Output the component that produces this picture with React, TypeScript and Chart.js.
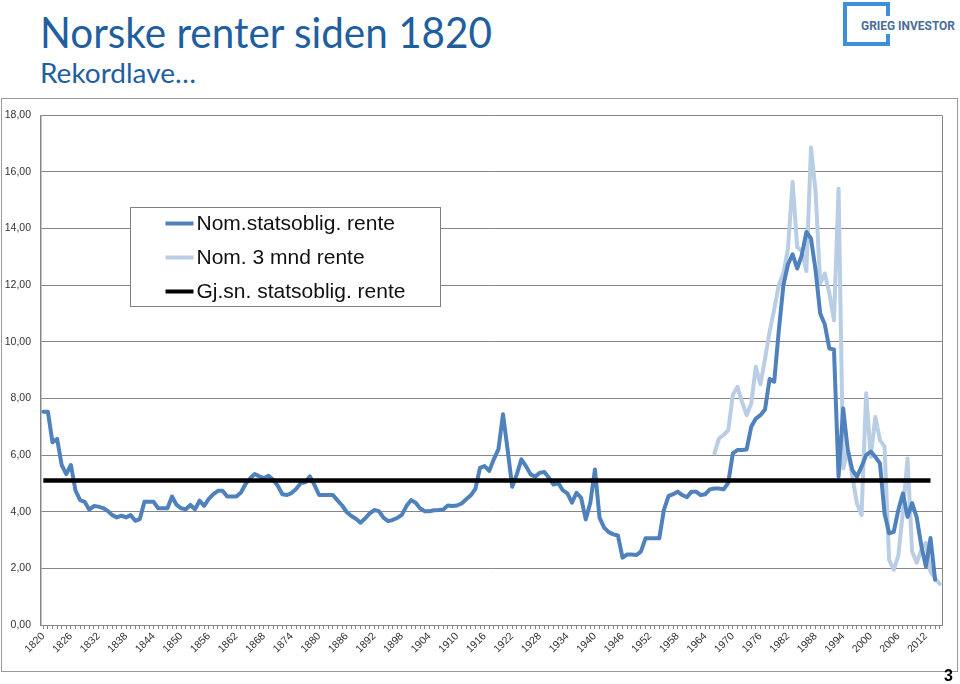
import React, { useEffect, useLayoutEffect, useRef } from "react";
import { Chart, registerables } from "chart.js";

Chart.register(...registerables);

// ---------- DATA ----------
const FIRST_YEAR = 1820;
const LAST_YEAR = 2015;
const YEARS: number[] = [];
for (let y = FIRST_YEAR; y <= LAST_YEAR; y++) YEARS.push(y);

const LABEL_EVERY = 6; // a tick label every 6th year (1820, 1826, ...)

// Nom.statsoblig. rente, 1820–2014
const NOM_STATSOBLIG: number[] = [
  // 1820s
  7.53, 7.53, 6.45, 6.57, 5.65, 5.33, 5.65, 4.75, 4.41, 4.35,
  // 1830s
  4.07, 4.2, 4.18, 4.13, 4.03, 3.88, 3.8, 3.86, 3.8, 3.88,
  // 1840s
  3.68, 3.74, 4.35, 4.35, 4.35, 4.12, 4.12, 4.12, 4.54, 4.24,
  // 1850s
  4.12, 4.09, 4.24, 4.09, 4.39, 4.21, 4.45, 4.62, 4.74, 4.74,
  // 1860s
  4.54, 4.54, 4.54, 4.68, 4.98, 5.18, 5.33, 5.25, 5.18, 5.27,
  // 1870s
  5.13, 4.92, 4.62, 4.59, 4.66, 4.8, 5.01, 5.04, 5.25, 4.94,
  // 1880s
  4.59, 4.59, 4.59, 4.59, 4.4, 4.22, 3.99, 3.85, 3.75, 3.61,
  // 1890s
  3.76, 3.94, 4.06, 4.02, 3.79, 3.67, 3.71, 3.78, 3.89, 4.2,
  // 1900s
  4.41, 4.32, 4.11, 4.02, 4.02, 4.05, 4.06, 4.08, 4.22, 4.2,
  // 1910s
  4.22, 4.29, 4.44, 4.58, 4.81, 5.55, 5.61, 5.44, 5.85, 6.2,
  // 1920s
  7.44, 6.2, 4.88, 5.32, 5.85, 5.61, 5.32, 5.24, 5.38, 5.4,
  // 1930s
  5.2, 4.96, 5.02, 4.76, 4.65, 4.32, 4.67, 4.49, 3.73, 4.32,
  // 1940s
  5.49, 3.79, 3.44, 3.28, 3.2, 3.16, 2.38, 2.49, 2.49, 2.47,
  // 1950s
  2.59, 3.06, 3.06, 3.06, 3.06, 4.06, 4.55, 4.62, 4.71, 4.59,
  // 1960s
  4.51, 4.71, 4.71, 4.59, 4.62, 4.79, 4.82, 4.82, 4.79, 5.02,
  // 1970s
  6.06, 6.18, 6.18, 6.2, 7.0, 7.29, 7.41, 7.61, 8.69, 8.59,
  // 1980s
  10.4, 12.0, 12.74, 13.09, 12.59, 13.06, 13.88, 13.65, 12.53, 11.0,
  // 1990s
  10.62, 9.76, 9.73, 5.24, 7.65, 6.18, 5.47, 5.24, 5.59, 6.0,
  // 2000s
  6.12, 5.94, 5.71, 3.94, 3.24, 3.29, 4.06, 4.65, 3.82, 4.3,
  // 2010s
  3.8, 2.8, 2.06, 3.07, 1.6,
];

// Nom. 3 mnd rente, 1966–2015
const NOM_3MND_FIRST_YEAR = 1966;
const NOM_3MND: number[] = [
  // 1966–1969
  6.06, 6.59, 6.71, 6.88,
  // 1970s
  8.12, 8.41, 7.88, 7.41, 7.82, 9.12, 8.5, 9.4, 10.35, 11.15,
  // 1980s
  12.0, 12.43, 13.3, 15.65, 13.35, 13.2, 12.5, 16.86, 15.3, 12.06,
  // 1990s
  12.41, 11.71, 10.76, 15.41, 5.53, 6.18, 5.24, 4.29, 3.88, 8.18,
  // 2000s
  5.94, 7.35, 6.53, 6.3, 2.3, 1.95, 2.45, 4.0, 5.88, 2.6,
  // 2010s
  2.2, 2.65, 2.9, 1.88, 1.65, 1.45,
];

// Gj.sn. statsoblig. rente (average), drawn 1820–2013
const GJSN_STATSOBLIG = 5.1;
const GJSN_LAST_YEAR = 2013;

const Y_MIN = 0;
const Y_MAX = 18;
const Y_STEP = 2;

const LABELS = {
  title: "Norske renter siden 1820",
  subtitle: "Rekordlave…",
  logo: "GRIEG INVESTOR",
  page: "3",
  series: ["Nom.statsoblig. rente", "Nom. 3 mnd rente", "Gj.sn. statsoblig. rente"],
};

// ---------- STYLE ----------
const DARK = "#4F81BD";
const LIGHT = "#B9CDE5";
const BLACK = "#000000";
const GRID = "#868686";
const AXIS_FONT = '"Liberation Sans", Arial, sans-serif';
const TITLE_BLUE = "#1F5E9F";

function FitText(props: { text: string; width: number; style: React.CSSProperties }) {
  const ref = useRef<HTMLSpanElement>(null);
  useLayoutEffect(() => {
    const el = ref.current;
    if (!el) return;
    el.style.transform = "none";
    const w = el.getBoundingClientRect().width;
    if (w > 0) el.style.transform = `scaleX(${props.width / w})`;
  }, [props.text, props.width]);
  return (
    <span
      ref={ref}
      style={{
        display: "inline-block",
        whiteSpace: "nowrap",
        transformOrigin: "left top",
        ...props.style,
      }}
    >
      {props.text}
    </span>
  );
}

const boxLegendPlugin = {
  id: "boxLegend",
  beforeDatasetsDraw(chart: any) {
    const { ctx, chartArea } = chart;
    ctx.save();
    ctx.strokeStyle = GRID;
    ctx.lineWidth = 1;
    ctx.beginPath();
    ctx.moveTo(Math.round(chartArea.right) + 0.5, chartArea.top);
    ctx.lineTo(Math.round(chartArea.right) + 0.5, chartArea.bottom);
    ctx.stroke();
    ctx.restore();
  },
  afterDatasetsDraw(chart: any) {
    const { ctx, chartArea } = chart;
    ctx.save();
    const x0 = Math.round(chartArea.left + 89) + 0.5;
    const y0 = Math.round(chartArea.top + 92) + 0.5;
    const w = 310;
    const h = 99;
    ctx.fillStyle = "#ffffff";
    ctx.fillRect(x0, y0, w, h);
    ctx.strokeStyle = "#7f7f7f";
    ctx.lineWidth = 1;
    ctx.strokeRect(x0, y0, w, h);
    const order = [1, 2, 0];
    order.forEach((dsIndex, k) => {
      const ds = chart.data.datasets[dsIndex];
      const cy = y0 + 16 + k * 34;
      ctx.strokeStyle = ds.borderColor;
      ctx.lineWidth = 4;
      ctx.lineCap = "butt";
      ctx.beginPath();
      ctx.moveTo(x0 + 35, cy);
      ctx.lineTo(x0 + 63, cy);
      ctx.stroke();
      ctx.fillStyle = "#111111";
      ctx.font = `21px ${AXIS_FONT}`;
      ctx.textBaseline = "middle";
      ctx.textAlign = "left";
      ctx.fillText(ds.label, x0 + 66, cy + 1);
    });
    ctx.restore();
  },
};

function RatesChart() {
  const canvasRef = useRef<HTMLCanvasElement>(null);
  useEffect(() => {
    const canvas = canvasRef.current;
    if (!canvas) return;
    const darkData = YEARS.map((_, i) => (i < NOM_STATSOBLIG.length ? NOM_STATSOBLIG[i] : null));
    const lightData = YEARS.map((y) =>
      y >= NOM_3MND_FIRST_YEAR && y - NOM_3MND_FIRST_YEAR < NOM_3MND.length
        ? NOM_3MND[y - NOM_3MND_FIRST_YEAR]
        : null
    );
    const avgData = YEARS.map((y) => (y <= GJSN_LAST_YEAR ? GJSN_STATSOBLIG : null));

    const chart = new Chart(canvas, {
      type: "line",
      data: {
        labels: YEARS.map(String),
        datasets: [
          {
            label: LABELS.series[2],
            data: avgData,
            borderColor: BLACK,
            backgroundColor: BLACK,
            borderWidth: 4.5,
            pointRadius: 0,
            order: 0,
            borderCapStyle: "butt",
          },
          {
            label: LABELS.series[0],
            data: darkData,
            borderColor: DARK,
            backgroundColor: DARK,
            borderWidth: 4,
            pointRadius: 0,
            order: 1,
            borderJoinStyle: "round",
            borderCapStyle: "round",
          },
          {
            label: LABELS.series[1],
            data: lightData,
            borderColor: LIGHT,
            backgroundColor: LIGHT,
            borderWidth: 4,
            pointRadius: 0,
            order: 2,
            borderJoinStyle: "round",
            borderCapStyle: "round",
          },
        ],
      },
      options: {
        animation: false,
        responsive: false,
        devicePixelRatio: 1,
        layout: { padding: { left: 0, right: 15, top: 16, bottom: 0 } },
        plugins: {
          legend: { display: false },
          tooltip: { enabled: false },
        },
        elements: { line: { tension: 0 } },
        scales: {
          x: {
            type: "category",
            offset: true,
            grid: {
              drawOnChartArea: false,
              drawTicks: true,
              tickLength: 4,
              color: GRID,
            },
            border: { display: true, color: GRID, width: 1 },
            ticks: {
              autoSkip: false,
              maxRotation: 45,
              minRotation: 45,
              padding: 1,
              color: "#333333",
              font: { family: AXIS_FONT, size: 10.5 },
              callback: function (this: any, value: any, index: number) {
                const year = YEARS[index];
                return (year - FIRST_YEAR) % LABEL_EVERY === 0 ? String(year) : "";
              },
            },
            afterFit: (s: any) => {
              s.height = 46;
            },
          },
          y: {
            min: Y_MIN,
            max: Y_MAX,
            grid: { color: GRID, drawTicks: false, lineWidth: 1 },
            border: { display: true, color: GRID, width: 1.5 },
            ticks: {
              stepSize: Y_STEP,
              padding: 10,
              color: "#333333",
              font: { family: AXIS_FONT, size: 10.5 },
              callback: (v: any) => Number(v).toFixed(2).replace(".", ","),
            },
            afterFit: (s: any) => {
              s.width = 39;
            },
          },
        },
      },
      plugins: [boxLegendPlugin],
    });
    return () => chart.destroy();
  }, []);
  return <canvas ref={canvasRef} width={955} height={572} style={{ display: "block" }} />;
}

export default function App() {
  useEffect(() => {
    document.body.style.margin = "0";
  }, []);
  return (
    <div
      style={{
        position: "absolute",
        left: 0,
        top: 0,
        width: 960,
        height: 684,
        overflow: "hidden",
        background: "#ffffff",
        fontFamily: AXIS_FONT,
      }}
    >
      <div style={{ position: "absolute", left: 40, top: 10, lineHeight: "43px" }}>
        <FitText
          text={LABELS.title}
          width={452}
          style={{ fontFamily: "Lato, sans-serif", fontSize: 43, color: TITLE_BLUE, lineHeight: "43px" }}
        />
      </div>
      <div style={{ position: "absolute", left: 40, top: 60, lineHeight: "26px" }}>
        <FitText
          text={LABELS.subtitle}
          width={156}
          style={{ fontFamily: "Lato, sans-serif", fontSize: 26, color: TITLE_BLUE, lineHeight: "26px" }}
        />
      </div>
      {/* logo */}
      <div
        style={{
          position: "absolute",
          left: 843,
          top: 2,
          width: 47,
          height: 44,
          boxSizing: "border-box",
          border: "4px solid #3F8ED8",
        }}
      />
      <div
        style={{
          position: "absolute",
          left: 860,
          top: 16,
          background: "#ffffff",
          padding: "2px 1px",
          lineHeight: "13px",
        }}
      >
        <FitText
          text={LABELS.logo}
          width={94}
          style={{ fontFamily: "Roboto, sans-serif", fontWeight: 700, fontSize: 13, color: "#4A6D99", lineHeight: "13px" }}
        />
      </div>
      {/* chart frame */}
      <div
        style={{
          position: "absolute",
          left: 1,
          top: 98,
          width: 957,
          height: 574,
          boxSizing: "border-box",
          border: "1px solid #9a9a9a",
        }}
      >
        <RatesChart />
      </div>
      <div
        style={{
          position: "absolute",
          left: 944,
          top: 668,
          fontFamily: AXIS_FONT,
          fontWeight: 700,
          fontSize: 16,
          lineHeight: "16px",
          color: "#000",
        }}
      >
        {LABELS.page}
      </div>
    </div>
  );
}
